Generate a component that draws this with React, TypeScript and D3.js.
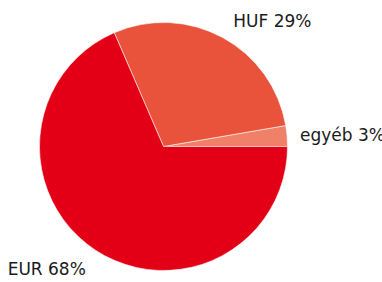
import React from "react";
import * as d3 from "d3";

const categories = ["egyéb", "HUF", "EUR"];
const values = [2.7, 28.8, 68.5];
const labels = ["egyéb 3%", "HUF 29%", "EUR 68%"];
const colors = ["#f08068", "#e9533b", "#e30016"];

const W = 382;
const H = 282;
const cx = 163.5;
const cy = 146.5;
const R = 124;

// per-label nudges relative to arc-based anchor point
const nudges = [
  { dx: 1, dy: 6 },
  { dx: 5, dy: 0 },
  { dx: -3, dy: 15 },
];

export default function App() {
  const data = categories.map((c, i) => ({ c, v: values[i], i }));
  // start at 3 o'clock, go counter-clockwise
  const pie = d3
    .pie<any>()
    .value((d) => d.v)
    .sort(null)
    .startAngle(Math.PI / 2)
    .endAngle(Math.PI / 2 - 2 * Math.PI);
  const arcs = pie(data);
  const arc = d3.arc<any>().innerRadius(0).outerRadius(R);
  const lr = 136;

  return (
    <svg
      width={W}
      height={H}
      style={{ position: "absolute", left: 0, top: 0, background: "#fff" }}
      fontFamily="DejaVu Sans, Verdana, sans-serif"
    >
      <g transform={`translate(${cx},${cy})`}>
        {arcs.map((a, i) => (
          <path
            key={i}
            d={arc(a) as string}
            fill={colors[i]}
            stroke="#ffffff"
            strokeOpacity={0.55}
            strokeWidth={1}
          />
        ))}
        {arcs.map((a, i) => {
          const mid = (a.startAngle + a.endAngle) / 2;
          const x = Math.sin(mid) * lr;
          const y = -Math.cos(mid) * lr;
          const anchor = x >= 0 ? "start" : "end";
          return (
            <text
              key={"t" + i}
              x={x + nudges[i].dx}
              y={y + nudges[i].dy}
              textAnchor={anchor}
              fontSize={17}
              fill="#1a1a1a"
            >
              {labels[i]}
            </text>
          );
        })}
      </g>
    </svg>
  );
}
